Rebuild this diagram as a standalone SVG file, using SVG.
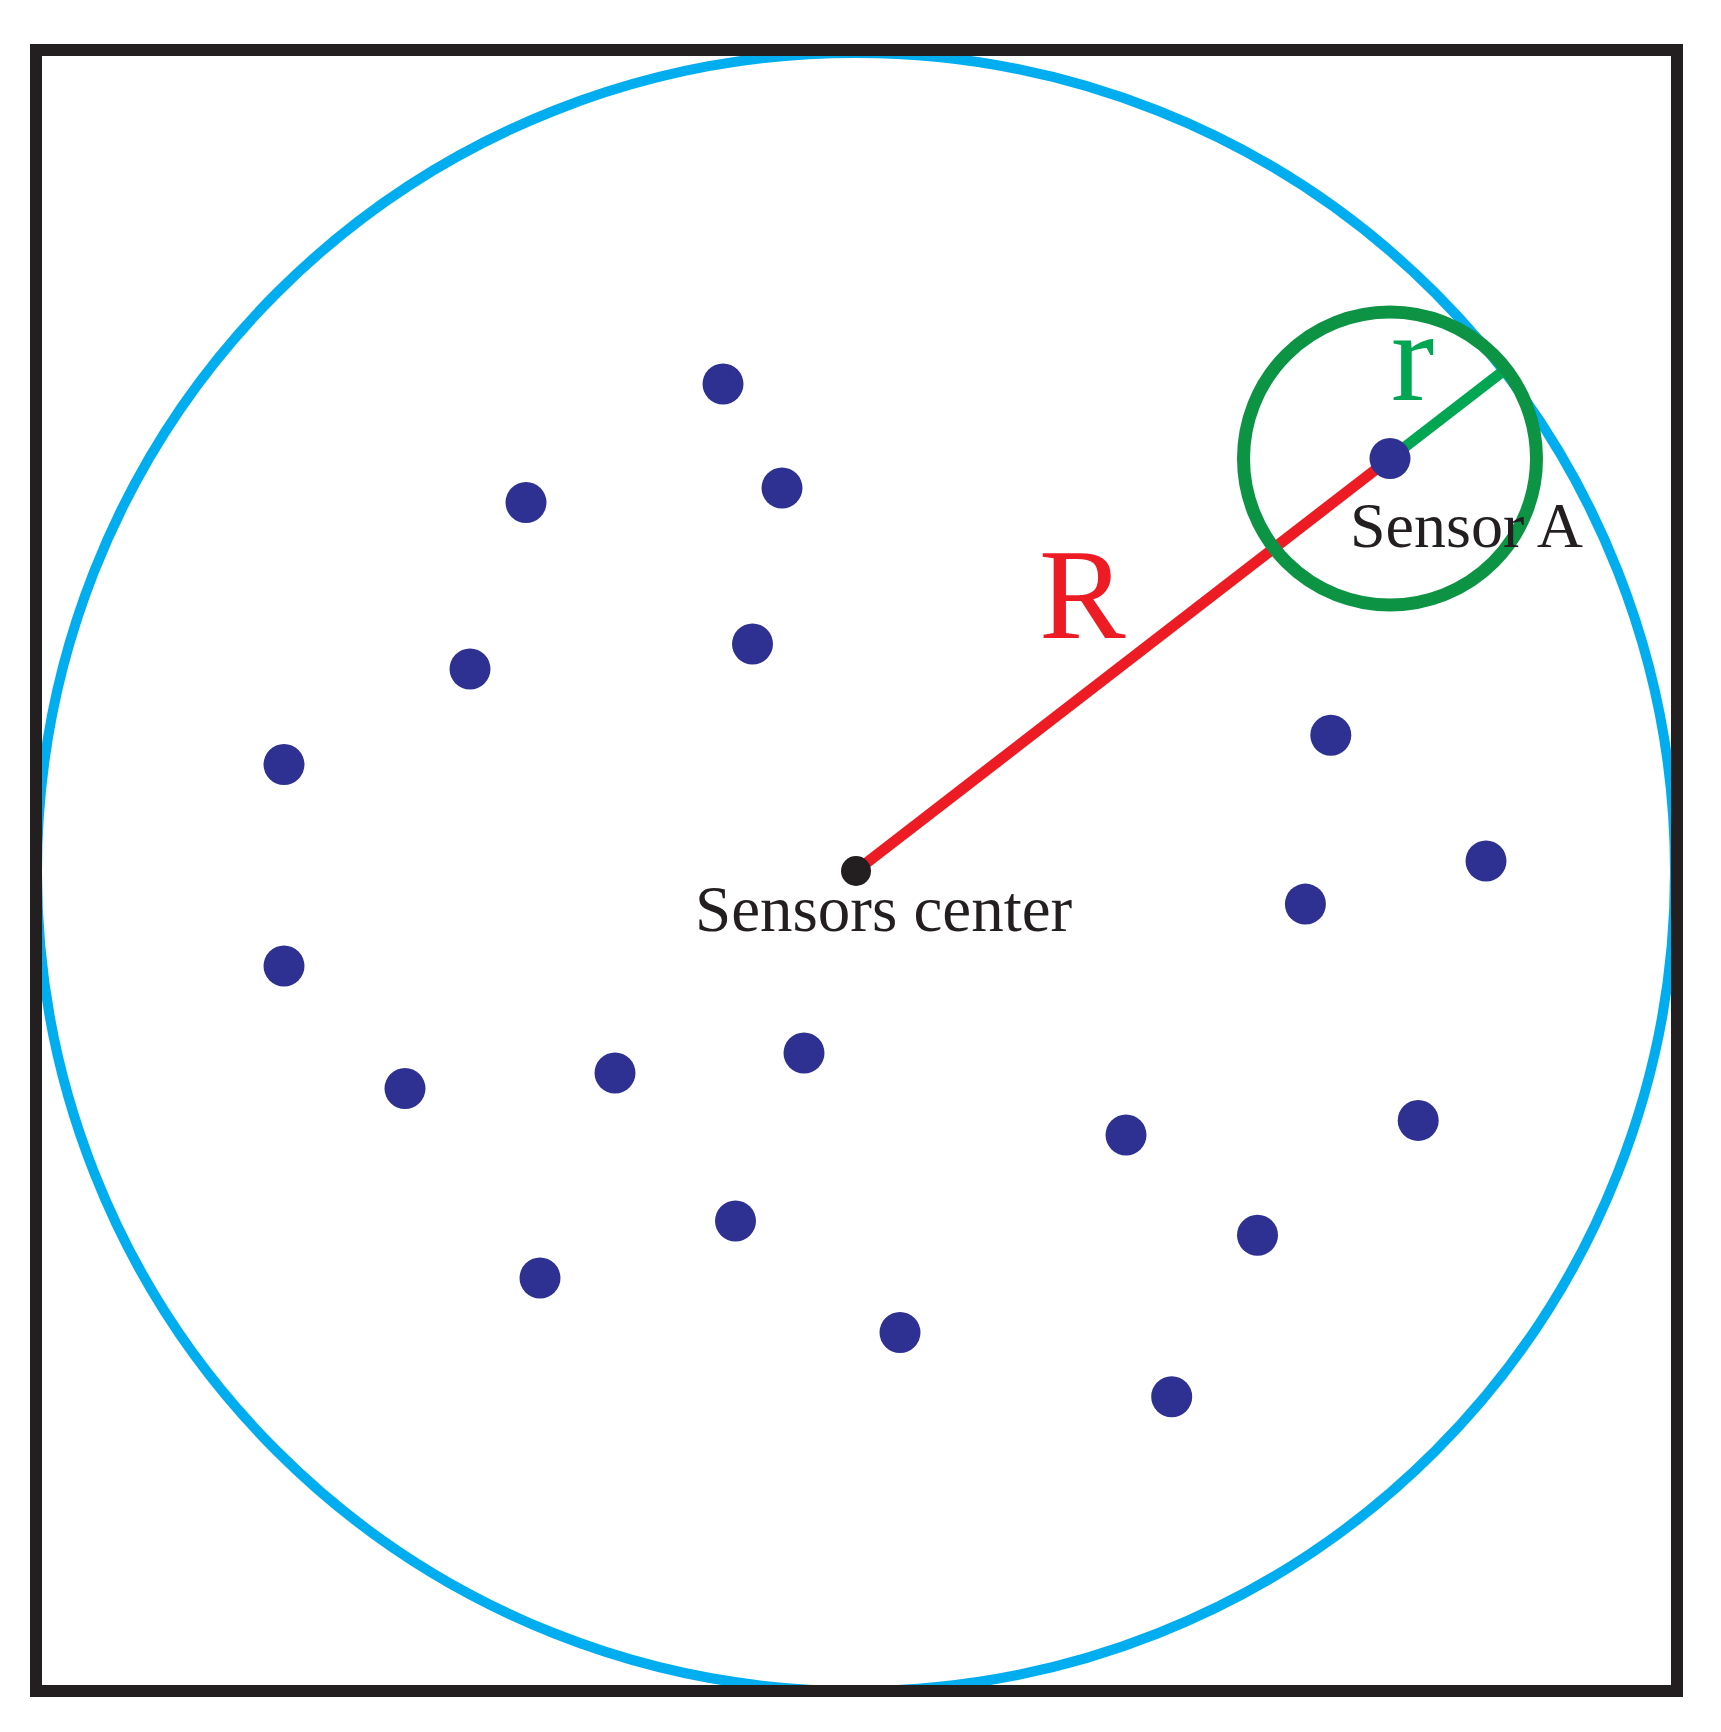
<svg xmlns="http://www.w3.org/2000/svg" width="1721" height="1732" viewBox="0 0 1721 1732">
<style>
.sensor{fill:#2e3192}
.lbl{font-family:"Liberation Serif","Times New Roman",serif;fill:#231f20}
</style>
<rect width="1721" height="1732" fill="#ffffff"/>
<g id="area">
<circle cx="856" cy="872" r="819" fill="none" stroke="#00aeef" stroke-width="10"/>
<rect x="36" y="50" width="1641" height="1641" fill="none" stroke="#231f20" stroke-width="12"/>
</g>
<g id="connectors">
<line x1="856" y1="871" x2="1390" y2="458.5" stroke="#ed1c24" stroke-width="11"/>
<line x1="1390" y1="458.5" x2="1502" y2="372" stroke="#00a651" stroke-width="11"/>
</g>
<g id="range-A">
<circle cx="1390" cy="458.5" r="146.5" fill="none" stroke="#0c9444" stroke-width="13"/>
</g>
<g id="sensors">
<circle class="sensor" cx="723" cy="384" r="20.5"/>
<circle class="sensor" cx="526" cy="502.5" r="20.5"/>
<circle class="sensor" cx="782" cy="488" r="20.5"/>
<circle class="sensor" cx="470" cy="669" r="20.5"/>
<circle class="sensor" cx="752.5" cy="644" r="20.5"/>
<circle class="sensor" cx="284" cy="764.5" r="20.5"/>
<circle class="sensor" cx="284" cy="966" r="20.5"/>
<circle class="sensor" cx="405" cy="1088.5" r="20.5"/>
<circle class="sensor" cx="615" cy="1073" r="20.5"/>
<circle class="sensor" cx="804" cy="1053" r="20.5"/>
<circle class="sensor" cx="735.5" cy="1221" r="20.5"/>
<circle class="sensor" cx="540" cy="1278" r="20.5"/>
<circle class="sensor" cx="900" cy="1332.5" r="20.5"/>
<circle class="sensor" cx="1126" cy="1135" r="20.5"/>
<circle class="sensor" cx="1418.2" cy="1120.4" r="20.5"/>
<circle class="sensor" cx="1257.5" cy="1235.2" r="20.5"/>
<circle class="sensor" cx="1171.7" cy="1396.7" r="20.5"/>
<circle class="sensor" cx="1330.8" cy="735.2" r="20.5"/>
<circle class="sensor" cx="1486" cy="861" r="20.5"/>
<circle class="sensor" cx="1305.4" cy="904.1" r="20.5"/>
</g>
<g id="sensor-A">
<circle class="sensor" cx="1390" cy="458.5" r="20.5"/>
<text class="lbl" x="1350" y="547" font-size="64">Sensor A</text>
</g>
<g id="center">
<circle cx="856" cy="871" r="15" fill="#231f20"/>
<text class="lbl" x="695" y="931" font-size="65">Sensors center</text>
</g>
<g id="labels">
<text x="1039" y="638" font-size="130" font-family="'Liberation Serif','Times New Roman',serif" fill="#ed1c24">R</text>
<text x="1391" y="400" font-size="130" font-family="'Liberation Serif','Times New Roman',serif" fill="#00a651">r</text>
</g>
</svg>
